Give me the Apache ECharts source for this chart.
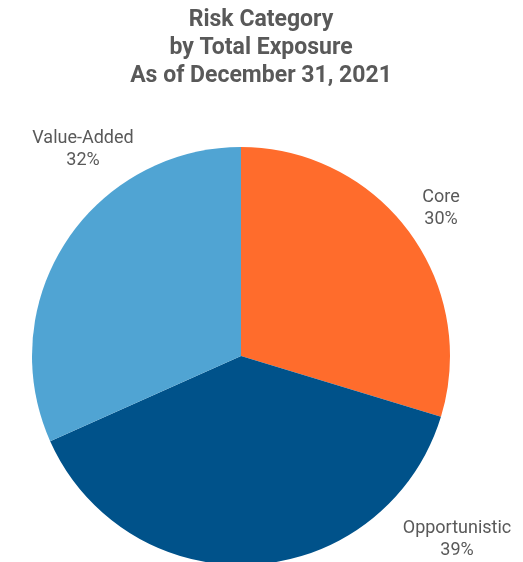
<!DOCTYPE html>
<html>
<head>
<meta charset="utf-8">
<style>
  html, body { margin: 0; padding: 0; background: #ffffff; }
  #chart { width: 523px; height: 562px; }
</style>
<script src="https://cdn.jsdelivr.net/npm/echarts@6/dist/echarts.min.js"></script>
</head>
<body>
<div id="chart"></div>
<script>
// Risk categories and their share of total exposure (%)
const categories = ['Core', 'Opportunistic', 'Value-Added'];
const exposureShare = [30, 39, 32];
const sliceColors = ['#FF6C2C', '#00528A', '#50A4D3'];

// Label anchor points (centre of each two-line label), in pixels
const labelAnchors = [[441, 208], [457, 539], [83, 149]];

const chart = echarts.init(document.getElementById('chart'), null, { renderer: 'canvas' });

chart.setOption({
  backgroundColor: '#ffffff',
  animation: false,
  title: {
    text: 'Risk Category\nby Total Exposure\nAs of December 31, 2021',
    left: 256,
    top: 1,
    textAlign: 'center',
    textStyle: {
      fontFamily: 'Roboto',
      fontWeight: 'bold',
      fontSize: 23,
      lineHeight: 28,
      color: '#595959'
    }
  },
  series: [{
    type: 'pie',
    center: [241, 356],
    radius: [0, 209],
    startAngle: 90,
    clockwise: true,
    silent: true,
    itemStyle: { borderWidth: 0 },
    label: {
      show: true,
      position: 'inside',
      formatter: p => p.name + '\n' + p.value + '%',
      fontFamily: 'Roboto',
      fontSize: 18,
      lineHeight: 22,
      color: '#595959',
      align: 'center'
    },
    labelLine: { show: false },
    labelLayout: p => ({
      x: labelAnchors[p.dataIndex][0],
      y: labelAnchors[p.dataIndex][1],
      align: 'center',
      verticalAlign: 'middle'
    }),
    data: categories.map((name, i) => ({
      name: name,
      value: exposureShare[i],
      itemStyle: { color: sliceColors[i] }
    }))
  }]
});
</script>
</body>
</html>
